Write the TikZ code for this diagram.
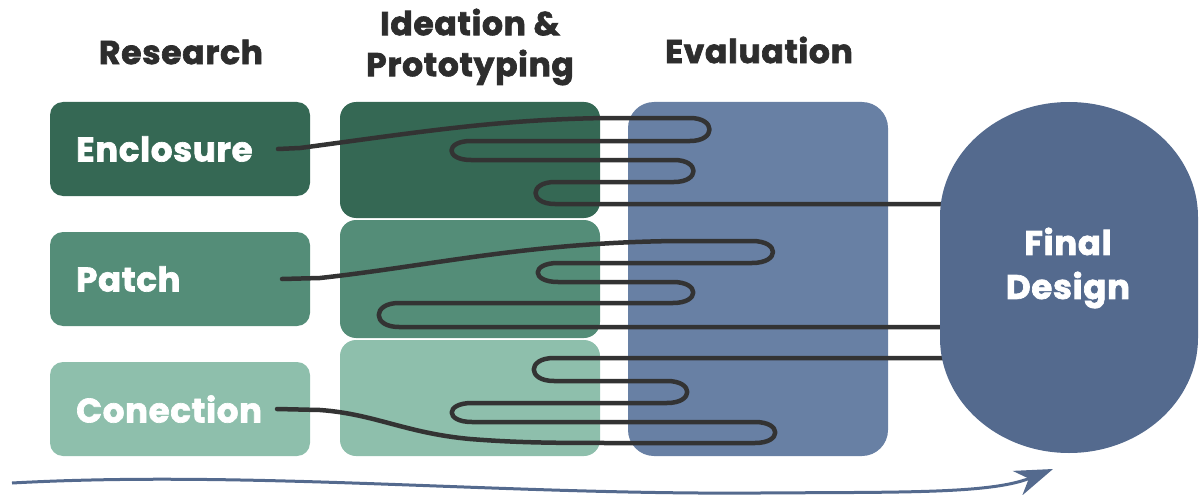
\documentclass[tikz,border=0pt]{standalone}
\usepackage{fontspec}
\newfontfamily\pop{Poppins}[BoldFeatures={FakeBold=2}, LetterSpace=2]
\usetikzlibrary{arrows.meta}
\definecolor{encC}{RGB}{53,104,84}
\definecolor{patC}{RGB}{84,141,120}
\definecolor{conC}{RGB}{142,191,172}
\definecolor{evalC}{RGB}{104,128,164}
\definecolor{finC}{RGB}{84,106,142}
\definecolor{lineC}{RGB}{51,51,51}
\definecolor{headC}{RGB}{45,45,45}
\tikzset{
  rbox/.style={fill=#1, draw=none, rounded corners=13pt, inner sep=0pt},
  heading/.style={text=headC, font=\pop\bfseries\fontsize{33}{41}\selectfont, align=center, inner sep=0pt},
  blabel/.style={text=white, font=\pop\bfseries\fontsize{34}{44}\selectfont, align=center, inner sep=0pt},
  curve/.style={draw=lineC, line width=4.5pt, line cap=round, line join=round},
  flow/.style={draw=finC, line width=3pt, -{Stealth[length=38pt,width=26pt,inset=12pt]}}
}
\begin{document}
\begin{tikzpicture}[x=1pt,y=-1pt]
\useasboundingbox (0,0) rectangle (1203,495);
% headings
\node[heading] (hres) at (181,52) {Research};
\node[heading] (hide) at (470,47) {Ideation \&\\Prototyping};
\node[heading] (heva) at (759,50) {Evaluation};
% research boxes
\node[rbox=encC, minimum width=260pt, minimum height=94pt] (enc) at (180,149) {};
\node[rbox=patC, minimum width=260pt, minimum height=94pt] (pat) at (180,279) {};
\node[rbox=conC, minimum width=260pt, minimum height=94pt] (con) at (180,409) {};
% ideation boxes
\node[rbox=encC, rounded corners=16pt, minimum width=260pt, minimum height=116pt] (ide1) at (470,160) {};
\node[rbox=patC, rounded corners=16pt, minimum width=260pt, minimum height=118pt] (ide2) at (470,279) {};
\node[rbox=conC, rounded corners=16pt, minimum width=260pt, minimum height=116pt] (ide3) at (470,398) {};
% evaluation box
\node[rbox=evalC, rounded corners=26pt, minimum width=260pt, minimum height=354pt] (eva) at (758,279) {};
% labels
\node[blabel, anchor=west] (lenc) at (76,149) {Enclosure};
\node[blabel, anchor=west] (lpat) at (76,279) {Patch};
\node[blabel, anchor=west] (lcon) at (76,409) {Conection};
% connector end points
\coordinate (s1) at (278,149);
\coordinate (s2) at (282,279);
\coordinate (s3) at (277,409);
\coordinate (e1) at (960,204);
\coordinate (e2) at (960,327);
\coordinate (e3) at (960,358);
% curves
\draw[curve] (s1) -- (300,148) .. controls (420,132) and (500,119) .. (610,118) -- (690,118)
  .. controls (716,118) and (716,141) .. (690,141) -- (471,141)
  .. controls (445,141) and (445,160) .. (471,160) -- (674,160)
  .. controls (700,160) and (700,182) .. (674,182) -- (555,182)
  .. controls (529,182) and (529,204) .. (555,204) -- (e1);
\draw[curve] (s2) -- (320,278) .. controls (430,266) and (530,242) .. (680,241) -- (752,241)
  .. controls (780,241) and (780,263) .. (752,263) -- (558,263)
  .. controls (531,263) and (531,282) .. (558,282) -- (673,282)
  .. controls (700,282) and (700,303) .. (673,303) -- (399,303)
  .. controls (372,303) and (372,327) .. (399,327) -- (e2);
\draw[curve] (s3) -- (320,410) .. controls (375,414) and (405,433) .. (470,439)
  .. controls (520,443) and (560,443) .. (620,443) -- (755,443)
  .. controls (782,443) and (782,422) .. (755,422) -- (472,422)
  .. controls (445,422) and (445,403) .. (472,403) -- (667,403)
  .. controls (694,403) and (694,381) .. (667,381) -- (554,381)
  .. controls (527,381) and (527,358) .. (554,358) -- (e3);
% final design
\fill[finC] (940,217) -- (940,338) arc[start angle=180, end angle=0, x radius=129, y radius=115]
  -- (1198,217) arc[start angle=0, end angle=-180, x radius=129, y radius=115] -- cycle;
\node[blabel] (fin) at (1068,268) {Final\\Design};
% flow arrow
\coordinate (a0) at (12,483);
\coordinate (a1) at (1053,469);
\draw[flow] (a0) .. controls (250,470) and (500,495) .. (760,493) .. controls (900,492) and (990,494) .. (a1);
\end{tikzpicture}
\end{document}
